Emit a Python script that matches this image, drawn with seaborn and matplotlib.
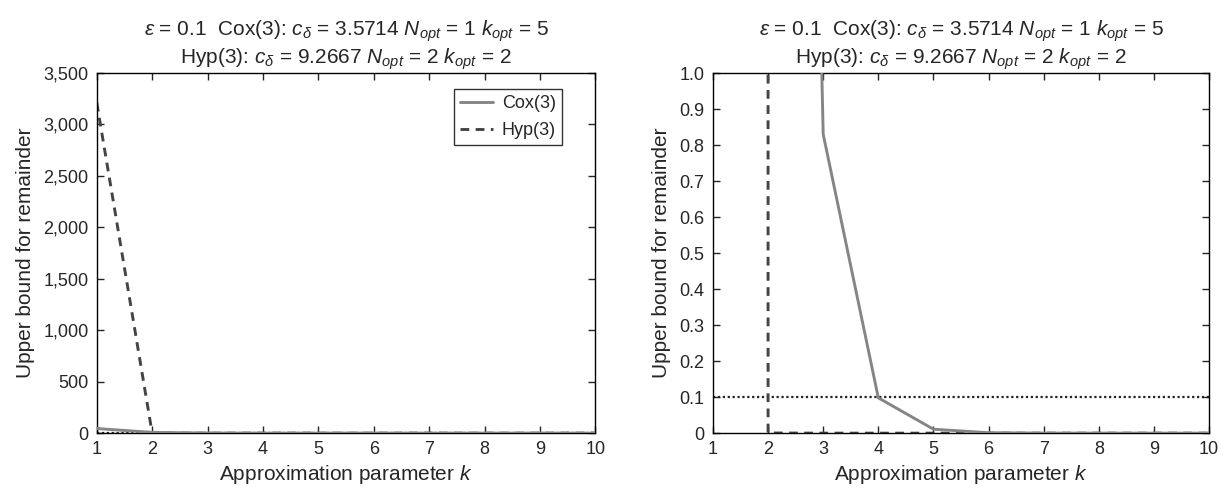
import matplotlib
matplotlib.use('Agg')
import matplotlib.pyplot as plt
import seaborn as sns
import pandas as pd
from matplotlib.ticker import FuncFormatter, MultipleLocator

# Data
k_values = [1, 2, 3, 4, 5, 6, 7, 8, 9, 10]
cox_bound = [45.0, 7.5, 0.83, 0.098, 0.011, 0.0012, 0.00013, 0.000014, 0.0000015, 0.00000016]
hyp_bound = [3210.0, 0.0005, 0.00002, 0.0000001, 0.0, 0.0, 0.0, 0.0, 0.0, 0.0]
epsilon = 0.1

title_text = ("$\\varepsilon$ = 0.1  Cox(3): $c_{\\delta}$ = 3.5714 $N_{opt}$ = 1 $k_{opt}$ = 5\n"
              "Hyp(3): $c_{\\delta}$ = 9.2667 $N_{opt}$ = 2 $k_{opt}$ = 2")

sns.set_style('ticks', {'xtick.direction': 'in', 'ytick.direction': 'in'})
plt.rcParams['font.family'] = ['Liberation Sans', 'DejaVu Sans']
plt.rcParams['mathtext.fontset'] = 'custom'
plt.rcParams['mathtext.rm'] = 'Liberation Sans'
plt.rcParams['mathtext.it'] = 'Liberation Sans:italic'

df = pd.DataFrame({'k': k_values, 'cox': cox_bound, 'hyp': hyp_bound})

fig = plt.figure(figsize=(12.25, 4.9), dpi=100)
ax_left = fig.add_axes([0.079, 0.116, 0.407, 0.735])
ax_right = fig.add_axes([0.582, 0.116, 0.405, 0.735])

for ax in (ax_left, ax_right):
    ax.axhline(epsilon, color='#222222', linestyle=(0, (1, 1.2)), linewidth=1.6, zorder=1)
    sns.lineplot(data=df, x='k', y='cox', ax=ax, color='#858585', linewidth=2.1,
                 label='Cox(3)', zorder=3)
    sns.lineplot(data=df, x='k', y='hyp', ax=ax, color='#444444', linewidth=2.1,
                 linestyle=(0, (3, 2.2)), label='Hyp(3)', zorder=2)
    ax.set_xlim(1, 10)
    ax.xaxis.set_major_locator(MultipleLocator(1))
    ax.set_xlabel('Approximation parameter $k$', fontsize=15, labelpad=3)
    ax.set_ylabel('Upper bound for remainder', fontsize=15, labelpad=6)
    ax.set_title(title_text, fontsize=15, linespacing=1.1, pad=7)
    ax.tick_params(top=True, right=True, length=5, width=1, labelsize=13, pad=6)
    for spine in ax.spines.values():
        spine.set_linewidth(1.0)
        spine.set_color('black')
        spine.set_visible(True)

ax_left.set_ylim(0, 3500)
ax_left.yaxis.set_major_locator(MultipleLocator(500))
ax_left.yaxis.set_major_formatter(FuncFormatter(lambda v, p: f'{v:,.0f}'))
leg = ax_left.legend(loc='upper right', bbox_to_anchor=(0.934, 0.956), frameon=True,
                     fancybox=False, fontsize=13, borderaxespad=0, handlelength=1.8,
                     handletextpad=0.5, borderpad=0.35, labelspacing=0.55)
leg.get_frame().set_edgecolor('black')
leg.get_frame().set_linewidth(1.0)

ax_right.set_ylim(0, 1)
ax_right.yaxis.set_major_locator(MultipleLocator(0.1))
ax_right.yaxis.set_major_formatter(FuncFormatter(lambda v, p: '0' if abs(v) < 1e-9 else f'{v:.1f}'))
ax_right.get_legend().remove()

fig.savefig('out.png', dpi=100)
